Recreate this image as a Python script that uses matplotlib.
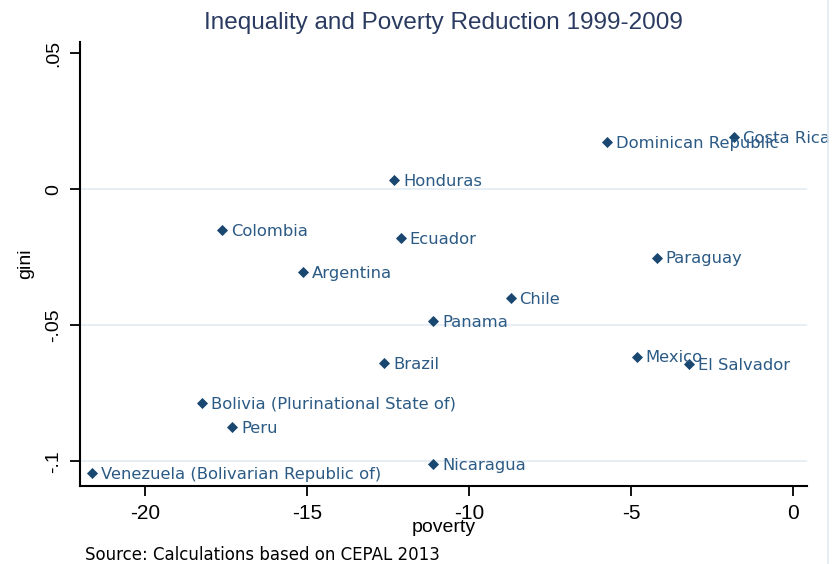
import matplotlib.pyplot as plt
from matplotlib.lines import Line2D

# data (change 1999-2009)
countries = [
    "Costa Rica", "Dominican Republic", "Honduras", "Colombia", "Ecuador",
    "Argentina", "Paraguay", "Chile", "Panama", "Mexico", "El Salvador",
    "Brazil", "Bolivia (Plurinational State of)", "Peru", "Nicaragua",
    "Venezuela (Bolivarian Republic of)",
]
poverty = [-1.84, -5.75, -12.32, -17.63, -12.12, -15.15, -4.22, -8.73,
           -11.12, -4.84, -3.22, -12.64, -18.24, -17.32, -11.12, -21.66]
gini = [0.0193, 0.0175, 0.0034, -0.0150, -0.0180, -0.0303, -0.0251, -0.0401,
        -0.0483, -0.0615, -0.0642, -0.0640, -0.0785, -0.0873, -0.1010, -0.1042]

x_ticks = [-20, -15, -10, -5, 0]
y_ticks = [-0.1, -0.05, 0, 0.05]
y_ticklabels = ["-.1", "-.05", "0", ".05"]
grid_levels = [-0.1, -0.05, 0]

NAVY = "#1a476f"
LABEL = "#2b5a85"
GRID = "#e4ecf2"

plt.rcParams["font.family"] = ["Liberation Sans", "DejaVu Sans"]

fig = plt.figure(figsize=(8.39, 5.64), dpi=100)
ax = fig.add_axes([80 / 839, 1 - 486 / 564, (807 - 80) / 839, (486 - 41.7) / 564])

for lvl in grid_levels:
    ax.axhline(lvl, color=GRID, linewidth=1.2, zorder=0)

ax.scatter(poverty, gini, marker="D", s=32, color=NAVY, zorder=3, linewidths=0)
for name, px, gy in zip(countries, poverty, gini):
    ax.annotate(name, (px, gy), xytext=(6.5, -1), textcoords="offset points",
                ha="left", va="center", fontsize=11.8, color=LABEL, zorder=4,
                family="DejaVu Sans", annotation_clip=False)

ax.set_xlim(-22.02, 0.42)
ax.set_ylim(-0.1091, 0.0543)
ax.set_xticks(x_ticks)
ax.set_xticklabels([str(t) for t in x_ticks], fontsize=15)
ax.set_yticks(y_ticks)
ax.set_yticklabels(y_ticklabels, fontsize=14, rotation=90, va="center")
ax.tick_params(length=7, width=1.3, color="black", pad=6)

for side in ("top", "right"):
    ax.spines[side].set_visible(False)
for side in ("left", "bottom"):
    ax.spines[side].set_linewidth(1.5)

ax.set_xlabel("poverty", fontsize=14, labelpad=-3)
ax.set_ylabel("gini", fontsize=14, labelpad=8)

fig.text(443 / 839, 1 - 23 / 564, "Inequality and Poverty Reduction 1999-2009",
         ha="center", va="center", fontsize=17.5, color="#2a3a60")
fig.text(85 / 839, 1 - 555 / 564, "Source: Calculations based on CEPAL 2013",
         ha="left", va="center", fontsize=12, color="black", family="DejaVu Sans")

# faint frame line at the right edge
fig.add_artist(Line2D([828 / 839, 828 / 839], [0, 1], color=GRID, linewidth=1.2,
                      transform=fig.transFigure))

fig.savefig("out.png", dpi=100, facecolor="white")
